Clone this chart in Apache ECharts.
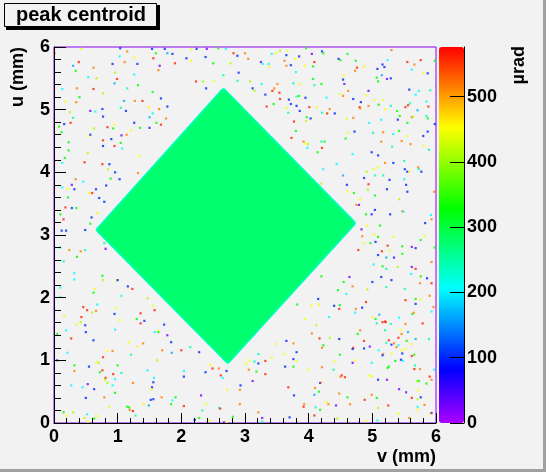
<!DOCTYPE html>
<html>
<head>
<meta charset="utf-8">
<script src="https://cdn.jsdelivr.net/npm/echarts@6/dist/echarts.min.js"></script>
<style>
html, body { margin: 0; padding: 0; background: #f2f2f2; }
#chart { width: 546px; height: 472px; }
</style>
</head>
<body>
<div id="chart"></div>
<script>
// v (mm), u (mm) ranges and colour scale (µrad)
var axisTicks = [0, 1, 2, 3, 4, 5, 6];
var colorbarTicks = [0, 100, 200, 300, 400, 500];
var zMax = 576;

// corners of the illuminated square: top, right, bottom, left
var diamondV = [2.66, 4.76, 2.73, 0.64];
var diamondU = [5.36, 3.19, 0.93, 3.08];
// edge band and bulk value (µrad)
var diamondLevels = [235, 276];

// isolated noisy bins [v, u, value]
var noiseTopLeft = [
  [0.43,5.97,450],[1.04,5.98,100],[1.15,5.93,515],[1.54,5.97,100],[1.60,5.90,330],[1.74,5.97,100],
  [1.78,5.90,165],[1.86,5.89,100],[2.16,5.96,450],[2.24,5.97,100],[2.40,5.97,25],[2.58,5.98,330],
  [2.70,5.97,205],[2.82,5.90,560],[2.88,5.86,100],[0.01,5.90,515],[0.30,5.70,165],[0.39,5.76,560],
  [0.62,5.67,515],[0.34,5.62,330],[0.54,5.52,205],[0.67,5.50,410],[0.92,5.73,100],[1.03,5.85,205],
  [1.11,5.76,515],[1.26,5.83,450],[1.31,5.73,100],[1.56,5.82,560],[1.66,5.70,25],[1.64,5.63,515],
  [1.90,5.74,560],[2.08,5.82,100],[2.15,5.78,450],[2.38,5.84,100],[2.50,5.74,330],[2.77,5.74,410],
  [2.90,5.59,100],[2.66,5.55,245],[0.96,5.59,410],[0.99,5.49,560],[1.26,5.56,205],[0.95,5.42,165],
  [1.15,5.34,245],[1.32,5.39,330],[0.62,5.33,560],[0.36,5.34,515],[0.13,5.33,205],[0.77,5.26,410],
  [0.40,5.20,330],[2.23,5.45,560],[2.34,5.45,410],[2.51,5.46,450],[2.88,5.46,245],[2.39,5.34,100],
  [1.55,5.28,330],[1.10,5.14,165],[1.27,5.14,515],[1.39,5.14,560],[1.68,5.18,100],[0.35,5.12,515],
  [0.18,5.13,450],[1.49,5.04,450],[1.65,5.01,515],[1.78,5.05,100],[1.05,5.03,245],[1.13,4.98,100],
  [0.76,5.01,100],[0.57,4.98,25],[0.65,4.97,205],[0.25,4.96,410],[0.30,4.87,245],[0.77,4.89,100],
  [1.55,4.94,205],[1.76,4.86,515],[1.50,4.88,165],[0.16,4.77,100],[0.26,4.79,560],[0.08,4.73,330],
  [0.95,4.76,450],[0.84,4.72,560],[0.93,4.70,330],[1.26,4.79,100],[1.35,4.71,330],[1.50,4.71,100],
  [1.61,4.79,330],[1.68,4.76,560],[1.21,4.67,450],[1.14,4.60,515],[1.06,4.59,25],[0.90,4.53,100],
  [0.77,4.51,560],[0.63,4.70,410],[0.57,4.60,100],[0.53,4.58,450],[0.12,4.64,330],[0.23,4.48,330],
  [0.77,4.42,100],[0.95,4.42,560],[1.05,4.47,330],[1.07,4.38,205],[0.23,4.35,330],[0.53,4.31,410],
  [0.17,4.23,330],[0.48,4.16,560],[0.13,4.15,205],[0.76,4.13,560],[0.87,4.13,100],[0.85,4.05,410],
  [0.96,4.00,100],[1.03,3.89,100],[0.89,3.90,330],[1.34,4.26,450],[1.32,3.99,515],[0.34,3.89,515],
  [0.46,3.85,205],[0.28,3.80,25],[0.13,3.76,205],[0.21,3.74,450],[0.32,3.73,100],[0.55,3.67,450],
  [0.60,3.67,560],[0.66,3.73,100],[0.82,3.79,100],[0.71,3.59,100],[0.79,3.53,100],[0.22,3.60,330],
  [0.18,3.44,560],[0.28,3.43,100],[0.35,3.43,330],[0.10,3.33,330],[0.15,3.25,560],[0.68,3.35,450],
  [0.59,3.28,100],[0.57,3.18,330],[0.12,3.07,100],[0.19,3.07,100],[0.49,3.08,100]
];

var noiseTopRight = [
  [3.00,5.90,515],[3.05,5.81,515],[3.42,5.89,205],[3.48,5.90,450],[3.55,5.94,410],[3.67,5.94,450],
  [3.96,5.98,330],[3.65,5.87,100],[3.85,5.85,100],[3.79,5.81,450],[4.05,5.89,25],[4.21,5.93,100],
  [4.23,5.90,330],[4.61,5.89,330],[5.30,5.95,515],[3.25,5.76,25],[3.28,5.73,205],[3.37,5.73,205],
  [3.38,5.69,450],[3.62,5.78,515],[3.72,5.71,100],[3.65,5.70,515],[3.94,5.70,450],[4.07,5.69,330],
  [4.09,5.76,560],[4.47,5.81,100],[4.50,5.79,330],[4.74,5.78,330],[4.76,5.67,560],[4.73,5.62,515],
  [4.87,5.69,450],[5.08,5.65,100],[5.16,5.72,100],[5.24,5.79,205],[5.19,5.68,100],[5.55,5.76,560],
  [5.66,5.72,515],[5.76,5.79,560],[5.62,5.64,205],[5.87,5.58,100],[5.80,5.59,450],[5.98,5.78,330],
  [3.80,5.60,205],[3.08,5.45,410],[3.12,5.34,100],[3.15,5.30,410],[3.26,5.41,205],[3.51,5.41,515],
  [3.46,5.34,515],[3.43,5.30,560],[3.54,5.27,560],[3.76,5.42,245],[3.87,5.41,450],[4.07,5.49,330],
  [4.09,5.39,245],[4.20,5.41,330],[4.55,5.55,450],[4.54,5.48,100],[4.56,5.41,25],[5.07,5.51,330],
  [5.09,5.45,330],[5.15,5.55,165],[5.23,5.49,25],[5.29,5.50,100],[4.94,5.30,25],[4.62,5.30,515],
  [4.49,5.25,450],[4.54,5.22,515],[4.28,5.19,205],[3.85,5.22,330],[3.81,5.21,245],[3.95,5.19,100],
  [3.32,5.24,100],[3.55,5.17,560],[3.69,5.16,100],[3.72,5.09,100],[3.65,5.03,450],[3.81,5.06,100],
  [3.45,5.09,330],[3.34,5.05,560],[3.68,4.95,245],[4.01,5.04,560],[3.86,4.98,100],[4.13,5.04,450],
  [4.21,4.95,245],[4.33,5.01,515],[4.29,4.94,560],[4.41,4.94,100],[4.70,5.17,100],[4.82,5.12,100],
  [4.80,5.04,560],[4.81,5.02,515],[4.94,5.06,515],[4.90,5.23,450],[5.03,5.15,450],[5.10,5.08,330],
  [5.17,5.15,450],[5.20,5.01,450],[5.29,5.06,245],[5.39,4.98,330],[5.43,4.90,330],[5.52,5.04,560],
  [5.56,5.07,560],[5.59,5.10,245],[5.68,5.24,205],[5.73,5.30,205],[5.58,5.32,100],[5.91,5.31,245],
  [5.88,5.05,560],[5.85,5.13,205],[5.71,4.99,165],[5.62,4.88,515],[5.64,4.89,410],[5.85,4.90,245],
  [5.87,4.86,330],[5.98,4.77,100],[5.40,4.84,100],[5.55,4.79,330],[5.14,4.84,205],[4.95,4.79,205],
  [4.60,4.85,450],[4.70,4.87,515],[3.97,4.88,330],[3.96,4.82,410],[4.03,4.86,100],[3.77,4.81,560],
  [3.80,4.66,330],[3.73,4.55,560],[3.92,4.49,515],[3.95,4.46,450],[3.99,4.45,410],[4.20,4.49,245],
  [4.25,4.49,330],[3.98,4.39,205],[4.21,4.39,560],[4.14,4.32,330],[4.58,4.54,330],[4.62,4.63,450],
  [4.72,4.65,100],[5.01,4.63,245],[5.17,4.64,515],[5.14,4.49,515],[5.33,4.61,205],[5.42,4.66,330],
  [5.55,4.58,450],[5.46,4.50,515],[5.60,4.45,515],[5.80,4.58,100],[5.87,4.65,100],[5.80,4.42,450],
  [5.89,4.36,245],[5.31,4.41,245],[4.99,4.32,100],[5.09,4.27,100],[4.69,4.29,205],[4.44,4.13,205],
  [4.23,4.05,205],[5.20,4.15,515],[5.33,4.15,100],[5.09,4.08,450],[5.02,4.05,450],[4.91,4.01,410],
  [4.87,3.91,100],[4.94,3.81,560],[5.04,3.95,245],[5.17,3.95,245],[5.27,3.88,100],[5.50,4.18,245],
  [5.51,4.05,100],[5.55,4.01,100],[5.58,4.01,450],[5.72,4.08,515],[5.73,4.05,245],[5.77,4.01,100],
  [5.50,3.89,205],[5.53,3.80,100],[5.23,3.73,100],[5.55,3.69,100],[4.93,3.72,410],[4.61,3.69,450],
  [4.60,3.80,100],[4.54,3.95,165],[4.71,3.67,330],[4.81,3.57,450],[5.04,3.63,330],[5.42,3.57,410],
  [4.79,3.48,25],[4.75,3.48,515],[4.90,3.33,330],[4.99,3.33,100],[5.04,3.40,100],[5.28,3.33,100],
  [5.47,3.38,515],[5.49,3.37,205],[4.19,3.82,410],[4.83,3.09,25],[4.92,3.15,450],[5.12,3.15,330],
  [5.83,3.19,100],[5.93,3.25,515],[5.92,3.32,205],[5.97,3.69,515]
];

var noiseBottomLeft = [
  [0.09,2.80,205],[0.24,2.76,515],[0.42,2.74,515],[0.49,2.76,245],[0.81,2.78,25],[0.79,2.87,245],
  [0.36,2.65,330],[0.15,2.58,245],[0.32,2.39,205],[0.32,2.29,205],[0.76,2.35,330],[0.77,2.28,410],
  [0.98,2.28,450],[1.00,2.28,100],[1.16,2.18,100],[1.23,2.14,560],[0.10,2.16,205],[0.64,2.14,450],
  [0.62,2.08,330],[0.10,2.01,205],[1.06,2.03,205],[0.68,1.89,205],[0.46,1.85,560],[0.52,1.80,560],
  [0.66,1.79,515],[0.60,1.76,410],[0.98,1.83,450],[0.95,1.74,100],[0.16,1.71,450],[0.43,1.69,560],
  [1.03,1.64,450],[1.36,1.75,560],[1.30,1.66,330],[1.36,1.59,560],[1.42,1.63,100],[1.47,1.99,410],
  [1.55,1.87,450],[1.58,1.80,560],[0.35,1.57,450],[0.42,1.61,410],[0.49,1.56,100],[0.19,1.48,205],
  [0.05,1.42,330],[0.50,1.45,100],[0.96,1.49,205],[0.27,1.35,560],[0.62,1.32,100],[1.18,1.29,450],
  [1.40,1.27,515],[1.31,1.22,450],[1.58,1.45,205],[1.64,1.47,450],[1.64,1.45,330],[1.73,1.57,100],
  [1.78,1.40,25],[1.84,1.29,100],[1.85,1.12,165],[2.00,1.16,560],[2.14,1.21,245],[2.28,1.13,100],
  [0.21,1.12,205],[0.84,1.15,450],[0.92,1.15,515],[1.21,1.09,245],[0.77,1.05,560],[0.67,0.97,450],
  [0.70,0.96,410],[0.55,0.90,100],[0.05,1.00,100],[0.32,0.92,330],[0.32,0.83,515],[0.76,0.84,560],
  [0.72,0.81,330],[1.00,0.92,330],[0.93,0.78,560],[1.06,0.80,245],[0.81,0.72,560],[0.80,0.69,410],
  [0.96,0.70,205],[0.84,0.64,410],[1.47,0.84,205],[1.62,1.00,410],[1.70,1.16,515],[1.57,0.72,205],
  [1.56,0.65,100],[1.54,0.57,100],[1.52,0.54,450],[1.24,0.64,515],[0.27,0.60,205],[0.45,0.57,205],
  [0.53,0.62,25],[0.63,0.54,100],[0.92,0.60,205],[0.96,0.48,330],[0.50,0.40,100],[0.79,0.41,515],
  [1.52,0.37,100],[1.56,0.38,100],[1.49,0.28,165],[1.41,0.30,450],[1.69,0.41,515],[1.86,0.36,205],
  [1.91,0.41,330],[1.84,0.30,330],[2.04,0.27,560],[0.87,0.26,450],[1.15,0.26,330],[1.18,0.25,330],
  [1.24,0.19,560],[1.19,0.21,515],[1.28,0.12,245],[0.15,0.17,330],[0.20,0.12,450],[0.30,0.17,410],
  [0.48,0.08,410],[0.52,0.14,205],[0.63,0.07,330],[0.67,0.11,450],[2.04,0.83,205],[2.04,0.74,100],
  [2.31,0.44,25],[2.39,0.30,450],[2.33,0.20,245],[2.28,0.08,330],[2.21,0.05,100],[2.45,0.93,450],
  [2.38,0.81,100],[2.49,0.87,560],[2.59,0.87,515],[2.62,0.76,560],[2.71,0.83,100],[2.65,0.72,205],
  [2.72,0.53,450],[2.93,0.60,100],[2.92,0.53,515],[2.92,0.30,515],[2.59,0.24,205],[2.61,0.23,560],
  [2.81,0.10,330],[2.67,0.01,25],[2.71,0.01,450],[2.44,0.04,450],[0.53,0.02,450]
];

var noiseBottomRight = [
  [4.84,2.98,515],[5.03,3.01,450],[5.09,2.97,330],[5.33,2.97,450],[5.82,2.98,450],[5.76,2.92,330],
  [4.87,2.87,450],[4.97,2.87,330],[5.05,2.89,100],[4.78,2.76,560],[5.15,2.74,560],[5.27,2.75,450],
  [5.24,2.83,560],[5.47,2.82,330],[5.62,2.81,25],[5.68,2.79,100],[5.98,2.80,330],[5.09,2.68,100],
  [5.22,2.64,165],[5.34,2.64,100],[5.47,2.70,330],[5.02,2.53,205],[5.16,2.50,330],[5.22,2.46,245],
  [5.40,2.49,410],[5.62,2.49,25],[5.68,2.46,560],[5.93,2.57,515],[5.61,2.38,205],[5.14,2.33,100],
  [5.30,2.28,100],[5.76,2.34,330],[5.86,2.31,100],[5.75,2.23,515],[5.93,2.23,560],[4.20,2.34,330],
  [4.64,2.33,25],[4.55,2.25,330],[4.69,2.18,515],[5.00,2.25,100],[5.22,2.17,245],[4.92,2.13,410],
  [4.46,2.12,330],[4.59,2.06,205],[5.51,2.14,245],[5.52,1.96,560],[5.68,1.98,330],[5.68,1.90,100],
  [5.76,1.97,450],[5.90,2.03,515],[4.15,1.98,100],[4.16,1.89,450],[4.04,1.87,450],[3.82,1.89,330],
  [4.40,1.87,100],[4.49,1.88,330],[4.48,1.82,560],[4.74,1.82,515],[4.73,1.76,205],[4.84,1.84,100],
  [4.90,1.93,560],[5.11,1.73,165],[5.00,1.69,450],[5.05,1.66,330],[5.07,1.59,245],[5.20,1.62,560],
  [5.21,1.61,560],[5.16,1.61,560],[5.29,1.58,245],[5.42,1.68,205],[5.52,1.58,515],[5.63,1.74,330],
  [5.65,1.76,515],[5.79,1.59,560],[5.93,1.78,205],[5.96,1.85,515],[3.94,1.66,450],[4.32,1.69,205],
  [4.12,1.56,410],[4.05,1.43,515],[4.17,1.35,560],[4.33,1.36,410],[4.48,1.34,100],[4.81,1.48,515],
  [4.77,1.42,330],[4.87,1.31,560],[5.20,1.48,245],[5.44,1.49,450],[5.46,1.42,515],[5.56,1.45,165],
  [5.41,1.36,560],[5.54,1.31,330],[5.68,1.34,165],[5.61,1.26,450],[5.89,1.34,245],[5.26,1.32,560],
  [5.22,1.28,245],[5.34,1.27,515],[5.30,1.25,100],[5.41,1.24,205],[5.38,1.21,515],[5.46,1.16,450],
  [5.52,1.18,450],[4.96,1.22,25],[4.87,1.19,100],[4.70,1.20,560],[4.69,1.18,100],[5.10,1.16,205],
  [5.17,1.10,515],[5.16,1.08,100],[5.30,1.11,450],[5.47,1.11,100],[5.62,1.07,560],[5.66,1.09,330],
  [5.66,0.86,560],[5.75,0.86,515],[5.67,0.92,245],[5.45,1.01,100],[5.48,0.99,205],[5.36,0.99,330],
  [4.99,0.96,205],[4.69,0.96,25],[4.73,1.00,450],[4.40,0.98,450],[4.49,1.09,330],[4.23,1.24,330],
  [4.21,1.20,515],[3.81,1.13,100],[3.76,1.02,100],[3.81,0.99,450],[3.65,1.31,100],[3.76,1.27,515],
  [3.49,1.26,450],[3.62,1.10,450],[3.42,1.04,450],[3.21,1.10,245],[3.32,0.99,560],[3.21,0.95,100],
  [3.15,0.98,245],[3.06,1.00,450],[3.02,0.95,450],[3.06,0.85,515],[3.18,0.82,330],[3.12,0.67,25],
  [3.32,0.78,560],[3.63,0.90,100],[3.76,0.90,330],[3.99,0.85,450],[4.21,0.89,515],[4.39,0.85,245],
  [4.52,0.76,560],[4.50,0.74,515],[4.57,0.73,560],[4.96,0.76,450],[4.99,0.74,450],[5.09,0.69,100],
  [5.23,0.69,25],[5.26,0.90,330],[5.24,0.88,330],[5.70,0.67,410],[5.73,0.67,330],[5.85,0.63,330],
  [5.90,0.74,560],[5.93,0.69,515],[5.97,0.85,205],[5.42,0.54,25],[5.53,0.49,25],[5.72,0.52,450],
  [5.76,0.41,100],[5.62,0.40,560],[5.71,0.38,410],[4.20,0.65,450],[4.18,0.64,25],[4.10,0.56,515],
  [4.16,0.50,330],[4.09,0.45,165],[3.68,0.57,560],[3.77,0.44,100],[4.48,0.47,515],[4.61,0.41,330],
  [4.28,0.33,450],[4.31,0.30,515],[4.43,0.28,25],[4.65,0.30,515],[4.88,0.37,560],[4.99,0.45,515],
  [5.07,0.40,330],[5.09,0.24,410],[5.25,0.28,560],[3.93,0.30,515],[3.92,0.26,560],[4.11,0.25,245],
  [4.18,0.21,330],[3.70,0.09,100],[4.09,0.12,560],[3.21,0.17,515],[3.27,0.08,25],[3.27,0.02,245],
  [4.45,0.07,410],[4.90,0.03,450],[5.08,0.04,205],[5.41,0.15,450],[5.58,0.08,515],[5.71,0.26,205],
  [5.71,0.21,450],[5.82,0.29,515],[5.91,0.15,450],[5.93,0.16,25]
];

// ROOT-like rainbow palette, violet (low) to red (high)
var palette = ['#aa00ff', '#5500ff', '#0000ff', '#0055ff', '#00aaff', '#00ffff', '#00ffaa', '#00ff55',
  '#00ff00', '#55ff00', '#aaff00', '#ffff00', '#ffaa00', '#ff5500', '#ff0000'];

var FONT = "'Liberation Sans', Arial, Helvetica, sans-serif";
var bg = '#f2f2f2';

var chart = echarts.init(document.getElementById('chart'));

var noise = noiseTopLeft.concat(noiseTopRight, noiseBottomLeft, noiseBottomRight);

function axisStyle(tickLen, minorLen, margin) {
	return {
		type: 'value',
		min: axisTicks[0],
		max: axisTicks[axisTicks.length - 1],
		interval: 1,
		z: 5,
		axisLine: { show: true, onZero: false, lineStyle: { color: '#000', width: 1 } },
		axisTick: { show: true, inside: true, length: tickLen, lineStyle: { color: '#000' } },
		minorTick: { show: true, splitNumber: 5, length: minorLen, lineStyle: { color: '#000' } },
		splitLine: { show: false },
		axisLabel: { color: '#000', fontSize: 18, fontWeight: 'bold', fontFamily: FONT, margin: margin }
	};
}

var xMain = axisStyle(10, 5, 5);
var yMain = axisStyle(12, 7, 4);

option = {
	backgroundColor: bg,
	animation: false,
	grid: [
		{ left: 54, top: 47, width: 382, height: 376, show: true, backgroundColor: 'transparent',
		  borderColor: '#8a00f0', borderWidth: 1 },
		{ left: 439, top: 47, width: 25, height: 376, show: false }
	],
	xAxis: [
		xMain,
		{ type: 'value', gridIndex: 1, min: 0, max: 1, show: false }
	],
	yAxis: [
		yMain,
		{
			type: 'value', gridIndex: 1, position: 'right', min: 0, max: zMax, z: 10,
			axisLine: { show: true, onZero: false, lineStyle: { color: '#000', width: 1 } },
			axisTick: { show: true, inside: true, length: 14, customValues: colorbarTicks, lineStyle: { color: '#000' } },
			minorTick: { show: false },
			splitLine: { show: false },
			axisLabel: { color: '#000', fontSize: 18, fontWeight: 'bold', fontFamily: FONT, margin: 3,
				customValues: colorbarTicks }
		}
	],
	visualMap: {
		type: 'continuous',
		min: 0,
		max: zMax,
		dimension: 2,
		seriesIndex: [0, 1],
		calculable: false,
		hoverLink: false,
		left: 439,
		top: 47,
		padding: 0,
		z: 1,
		itemWidth: 25,
		itemHeight: 376,
		inRange: { color: palette }
	},
	series: [
		{
			type: 'scatter',
			xAxisIndex: 0,
			yAxisIndex: 0,
			symbol: 'rect',
			symbolSize: 2.2,
			silent: true,
			z: 2,
			data: noise
		},
		{
			type: 'custom',
			xAxisIndex: 0,
			yAxisIndex: 0,
			silent: true,
			z: 3,
			data: diamondLevels.map(function (z) { return [0, 0, z]; }),
			renderItem: function (params, api) {
				var pts = diamondV.map(function (v, i) { return api.coord([v, diamondU[i]]); });
				var cx = 0, cy = 0;
				pts.forEach(function (p) { cx += p[0] / pts.length; cy += p[1] / pts.length; });
				// rounded corners: shrink, then stroke with round joins
				var r = 3;
				var edge = params.dataIndex === 0 ? 0 : 1.5;
				var d = (r + edge) * Math.SQRT2;
				var shrunk = pts.map(function (p) {
					var dx = cx - p[0], dy = cy - p[1];
					var len = Math.sqrt(dx * dx + dy * dy);
					return [p[0] + dx / len * d, p[1] + dy / len * d];
				});
				var c = api.visual('color');
				return {
					type: 'polygon',
					shape: { points: shrunk },
					style: { fill: c, stroke: c, lineWidth: 2 * r, lineJoin: 'round' }
				};
			}
		}
	],
	graphic: [
		{ type: 'rect', shape: { x: 6, y: 5, width: 154, height: 25 }, style: { fill: '#000' }, z: 10 },
		{ type: 'rect', shape: { x: 4.5, y: 3.5, width: 152, height: 23 }, style: { fill: bg, stroke: '#000', lineWidth: 1 }, z: 11 },
		{ type: 'text', x: 81, y: 15.5, z: 12,
		  style: { text: 'peak centroid', fill: '#000', font: 'bold 20px ' + FONT, align: 'center', verticalAlign: 'middle' } },
		{ type: 'text', x: 436, y: 457, z: 12,
		  style: { text: 'v (mm)', fill: '#000', font: 'bold 18px ' + FONT, align: 'right', verticalAlign: 'middle' } },
		{ type: 'text', x: 18, y: 47, rotation: Math.PI / 2, z: 12,
		  style: { text: 'u (mm)', fill: '#000', font: 'bold 18px ' + FONT, align: 'right', verticalAlign: 'middle' } },
		{ type: 'text', x: 519, y: 46, rotation: Math.PI / 2, z: 12,
		  style: { text: 'µrad', fill: '#000', font: 'bold 18px ' + FONT, align: 'right', verticalAlign: 'middle' } },
		{ type: 'rect', shape: { x: 543, y: 0, width: 3, height: 472 }, style: { fill: '#a0a0a0' }, z: 12 },
		{ type: 'rect', shape: { x: 0, y: 469, width: 546, height: 3 }, style: { fill: '#a0a0a0' }, z: 12 }
	]
};

chart.setOption(option);
</script>
</body>
</html>
